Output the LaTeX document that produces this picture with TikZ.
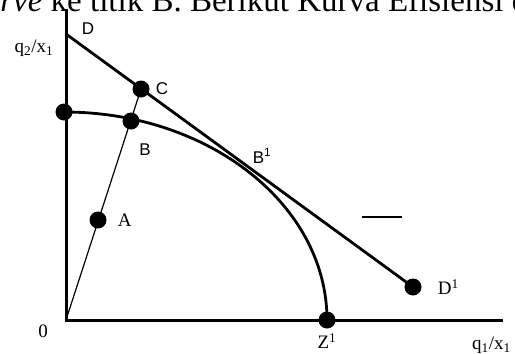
\documentclass[tikz,border=0pt]{standalone}
\usepackage{fontspec}
\setmainfont{Liberation Serif}
\newfontfamily\lblsans{Liberation Sans}
\usetikzlibrary{positioning}
\tikzset{
  axis/.style={line width=3pt,draw=black},
  budget/.style={line width=2.8pt,draw=black},
  frontier/.style={line width=2.8pt,draw=black},
  ray/.style={line width=1.2pt,draw=black},
  dot/.style={circle,fill=black,minimum size=17pt,inner sep=0pt},
  serlbl/.style={font=\fontsize{19}{19}\selectfont,inner sep=0pt},
  sanslbl/.style={font=\lblsans\fontsize{17}{17}\selectfont,inner sep=0pt}
}

\begin{document}
\begin{tikzpicture}[x=1pt,y=-1pt]
  \useasboundingbox (0,0) rectangle (515,354);
  \clip (0,0) rectangle (515,354);
  % cut-off caption line of the page
  \node[anchor=base west,inner sep=0pt,font=\fontsize{33}{33}\selectfont] (caption) at (-31,11) {\textit{curve} ke titik B. Berikut Kurva Efisiensi dan};

  % axes
  \coordinate (o) at (66,320);
  \coordinate (ytop) at (66,9);
  \coordinate (xend) at (503,320);
  \draw[axis] (ytop) -- (o) -- (xend);

  % points
  \node[dot] (z2) at (64,112) {};
  \node[dot] (b) at (131,121) {};
  \node[dot] (c) at (141,89) {};
  \node[dot] (a) at (98,220) {};
  \node[dot] (z1) at (327,320) {};
  \node[dot] (d1) at (413,287) {};
  \coordinate (d) at (66,34);

  \draw[budget] (d) -- (d1.center);
  \draw[ray] (o) -- (c.center);
  \draw[frontier] (z2.center) arc[start angle=-90,end angle=0,x radius=263,y radius=208];

  % short dash
  \coordinate (dashL) at (362,217);
  \coordinate (dashR) at (402,217);
  \draw[line width=2.5pt] (dashL) -- (dashR);

  % labels
  \node[sanslbl] (lblD) at (88,29) {D};
  \node[serlbl] (lblq2) at (34,48) {q\textsubscript{2}/x\textsubscript{1}};
  \node[sanslbl,right=6pt of c] (lblC) {C};
  \node[sanslbl] (lblB) at (145,150) {B};
  \node[sanslbl] (lblB1) at (262,156) {B\textsuperscript{1}};
  \node[serlbl,right=11pt of a] (lblA) {A};
  \node[serlbl] (lbl0) at (43,331) {0};
  \node[serlbl,below=5pt of z1] (lblZ1) {Z\textsuperscript{1}};
  \node[serlbl,right=16pt of d1] (lblD1) {D\textsuperscript{1}};
  \node[serlbl,anchor=west] (lblq1) at (472,345) {q\textsubscript{1}/x\textsubscript{1}};
\end{tikzpicture}
\end{document}
